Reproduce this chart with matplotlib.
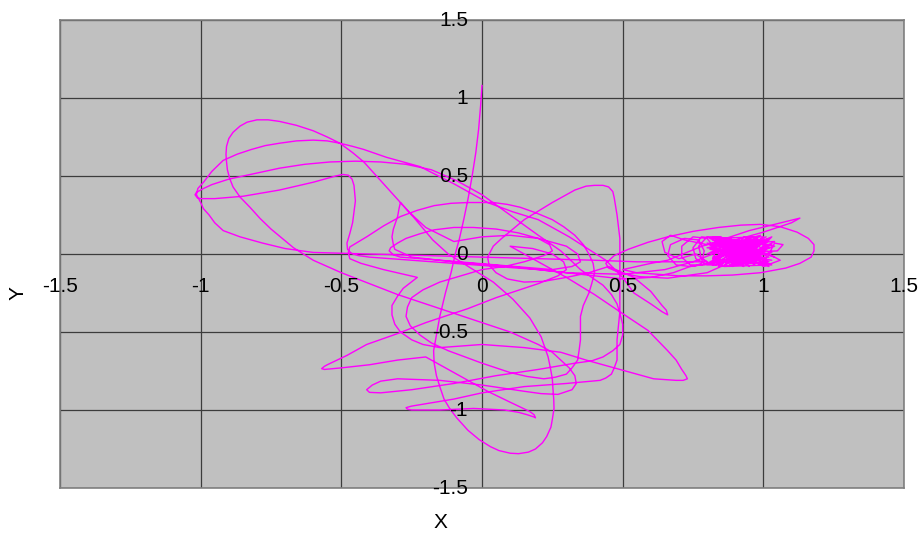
import matplotlib
matplotlib.use('Agg')
import matplotlib.pyplot as plt

# trajectory, in plot units, piece by piece
seg_drop = [(0.00, 1.08), (-0.005, 0.95), (-0.012, 0.80), (-0.022, 0.65), (-0.035, 0.50),
            (-0.05, 0.35), (-0.065, 0.22), (-0.08, 0.10), (-0.095, 0.00), (-0.11, -0.12),
            (-0.13, -0.25), (-0.15, -0.40), (-0.165, -0.55), (-0.172, -0.62), (-0.17, -0.70),
            (-0.162, -0.78), (-0.15, -0.85), (-0.135, -0.93), (-0.115, -0.99), (-0.09, -1.05),
            (-0.05, -1.13), (-0.01, -1.19), (0.03, -1.235), (0.06, -1.26), (0.10, -1.277),
            (0.13, -1.28), (0.165, -1.27), (0.19, -1.25), (0.215, -1.21), (0.23, -1.17),
            (0.245, -1.11), (0.25, -1.06), (0.256, -0.99), (0.255, -0.93), (0.252, -0.86),
            (0.25, -0.80), (0.243, -0.73), (0.235, -0.66), (0.21, -0.53), (0.17, -0.41),
            (0.11, -0.29), (0.04, -0.18), (-0.04, -0.09), (-0.12, 0.00)]

seg_outer = [(-0.175, 0.09), (-0.245, 0.24), (-0.34, 0.43), (-0.38, 0.51), (-0.42, 0.59),
             (-0.46, 0.65), (-0.505, 0.71), (-0.55, 0.75), (-0.60, 0.79), (-0.66, 0.825),
             (-0.72, 0.85), (-0.76, 0.86), (-0.80, 0.86), (-0.835, 0.845), (-0.86, 0.82),
             (-0.885, 0.78), (-0.90, 0.74), (-0.908, 0.69), (-0.91, 0.64), (-0.908, 0.59),
             (-0.905, 0.54), (-0.897, 0.485), (-0.885, 0.43), (-0.86, 0.365), (-0.825, 0.30),
             (-0.79, 0.23), (-0.75, 0.16), (-0.71, 0.10), (-0.67, 0.04), (-0.60, -0.04),
             (-0.50, -0.12), (-0.40, -0.19), (-0.30, -0.26), (-0.20, -0.32), (-0.10, -0.38),
             (0.00, -0.44), (0.10, -0.50), (0.20, -0.58), (0.25, -0.63), (0.28, -0.68),
             (0.31, -0.73), (0.33, -0.78), (0.335, -0.83), (0.32, -0.87), (0.27, -0.90),
             (0.21, -0.895), (0.15, -0.88), (0.00, -0.84), (-0.15, -0.81), (-0.30, -0.80),
             (-0.36, -0.815), (-0.39, -0.84), (-0.41, -0.87), (-0.40, -0.887), (-0.36, -0.89),
             (-0.25, -0.87), (-0.10, -0.83), (0.05, -0.78), (0.20, -0.74), (0.33, -0.70),
             (0.39, -0.685), (0.43, -0.66), (0.465, -0.62), (0.49, -0.58), (0.50, -0.52),
             (0.50, -0.45), (0.49, -0.38), (0.48, -0.32), (0.46, -0.26), (0.43, -0.20),
             (0.35, -0.10)]

seg_tip = [(0.28, 0.02), (0.20, 0.12), (0.10, 0.25), (0.00, 0.38), (-0.09, 0.47),
           (-0.18, 0.54), (-0.27, 0.575), (-0.36, 0.59), (-0.45, 0.595), (-0.54, 0.59),
           (-0.63, 0.575), (-0.72, 0.55), (-0.81, 0.515), (-0.90, 0.48), (-0.96, 0.445),
           (-0.99, 0.42), (-1.015, 0.395), (-1.02, 0.38), (-1.012, 0.36), (-1.00, 0.355),
           (-0.95, 0.355), (-0.85, 0.37), (-0.72, 0.41), (-0.60, 0.46), (-0.52, 0.50),
           (-0.495, 0.51), (-0.475, 0.505), (-0.462, 0.48), (-0.455, 0.44), (-0.45, 0.34),
           (-0.455, 0.27), (-0.46, 0.20), (-0.47, 0.13), (-0.48, 0.07), (-0.478, 0.03),
           (-0.465, 0.005), (-0.44, -0.01), (-0.40, -0.02), (-0.25, -0.04), (-0.10, -0.06),
           (0.05, -0.08), (0.20, -0.10), (0.35, -0.13), (0.50, -0.16), (0.60, -0.15),
           (0.68, -0.12), (0.74, -0.08)]

seg_cluster = [(0.76, -0.075), (0.78, -0.06), (0.79, 0.02), (0.77, 0.09), (0.72, 0.10),
               (0.67, 0.06), (0.66, -0.01), (0.69, -0.07), (0.74, -0.08), (0.78, -0.07),
               (0.82, -0.05), (0.83, 0.03), (0.80, 0.10), (0.75, 0.11), (0.71, 0.05),
               (0.71, -0.02), (0.74, -0.07), (0.79, -0.07), (0.84, -0.05), (0.86, 0.03),
               (0.83, 0.10), (0.78, 0.11), (0.75, 0.04), (0.76, -0.03), (0.80, -0.07),
               (0.85, -0.07), (0.88, -0.02), (0.88, 0.05), (0.85, 0.11), (0.80, 0.11),
               (0.77, 0.05), (0.78, -0.03), (0.82, -0.07),
               (0.85, -0.06), (1.00, 0.09), (0.82, 0.07), (1.02, -0.05), (0.84, -0.08),
               (0.98, 0.10), (0.80, 0.04), (1.01, 0.00), (0.86, 0.10), (0.95, -0.08),
               (0.83, 0.08), (1.03, 0.06), (0.88, -0.07), (0.99, -0.04), (0.81, 0.10),
               (1.00, 0.11), (0.90, -0.06), (0.82, -0.02), (1.02, 0.09), (0.87, 0.03),
               (0.97, -0.07), (0.84, 0.11), (1.04, -0.02), (0.90, 0.08), (0.82, -0.06),
               (1.00, 0.03), (0.93, 0.11), (0.86, -0.08), (1.03, -0.07), (0.85, 0.05),
               (0.99, 0.12), (0.83, -0.04), (1.01, -0.06), (0.92, 0.10), (0.80, 0.00),
               (1.02, 0.10), (0.89, -0.08), (0.96, 0.07), (0.84, 0.00), (1.05, 0.02),
               (1.07, 0.06), (1.04, 0.07), (1.02, 0.00), (1.06, -0.04), (1.00, -0.08),
               (0.88, 0.06), (0.97, 0.02), (0.81, 0.06), (0.94, -0.06), (1.03, 0.11),
               (0.87, -0.03), (0.98, 0.05), (0.82, 0.09), (1.01, -0.03), (0.90, -0.04),
               (1.02, 0.04), (0.83, -0.07), (0.96, 0.11), (0.86, -0.01), (1.03, -0.04),
               (0.81, 0.03), (0.99, 0.08), (0.88, -0.08), (1.04, 0.08), (0.84, 0.06),
               (0.97, -0.05), (0.82, 0.11), (1.01, 0.06), (0.91, -0.07), (0.85, 0.09),
               (1.02, -0.08), (0.83, 0.01), (0.95, 0.10), (0.89, -0.05), (1.03, 0.01),
               (0.86, 0.08), (0.98, -0.06), (0.81, -0.05), (1.00, 0.10), (0.92, -0.03),
               (0.84, 0.10), (1.04, 0.05), (0.87, -0.06), (0.94, 0.04), (0.82, -0.03),
               (1.01, 0.11), (0.90, 0.01), (0.97, 0.09), (0.85, -0.04), (1.02, -0.02),
               (0.88, 0.10), (0.93, -0.08), (0.80, 0.07), (0.99, 0.00), (0.90, -0.04)]

seg_ring = [(0.80, -0.12), (0.66, -0.155), (0.56, -0.145), (0.49, -0.12), (0.45, -0.09),
            (0.44, -0.06), (0.47, -0.01), (0.52, 0.03), (0.59, 0.075), (0.66, 0.11),
            (0.75, 0.145), (0.84, 0.17), (0.92, 0.185), (0.99, 0.19), (1.06, 0.175),
            (1.12, 0.14), (1.16, 0.10), (1.18, 0.06), (1.18, 0.02), (1.17, -0.02),
            (1.13, -0.06), (1.08, -0.09), (0.99, -0.12), (0.89, -0.135), (0.80, -0.14),
            (0.70, -0.14), (0.55, -0.12), (0.50, -0.10), (0.60, -0.06), (0.66, -0.04),
            (0.775, 0.045), (0.95, 0.15), (1.13, 0.23), (1.10, 0.20), (1.00, 0.14),
            (0.90, 0.09), (0.80, 0.06), (0.72, 0.09), (0.67, 0.12), (0.64, 0.08),
            (0.65, 0.01), (0.70, -0.03), (0.76, 0.00), (0.80, -0.05)]

seg_exit = [(0.70, -0.05), (0.55, -0.05), (0.40, -0.04), (0.20, -0.03), (0.00, -0.02),
            (-0.20, -0.01), (-0.40, 0.00), (-0.60, 0.01), (-0.70, 0.035), (-0.78, 0.07),
            (-0.86, 0.11), (-0.92, 0.15), (-0.95, 0.20), (-0.97, 0.25), (-0.99, 0.29),
            (-1.00, 0.33), (-1.015, 0.38), (-1.01, 0.42), (-0.99, 0.46), (-0.96, 0.53),
            (-0.92, 0.60), (-0.87, 0.64), (-0.82, 0.67), (-0.77, 0.695), (-0.72, 0.71),
            (-0.66, 0.725), (-0.60, 0.73), (-0.55, 0.725), (-0.505, 0.71), (-0.46, 0.69),
            (-0.42, 0.67), (-0.34, 0.62), (-0.22, 0.56), (-0.10, 0.45), (0.02, 0.33),
            (0.11, 0.27), (0.20, 0.22), (0.31, 0.11), (0.44, -0.04), (0.50, -0.15),
            (0.54, -0.25), (0.60, -0.32), (0.64, -0.37), (0.66, -0.39), (0.655, -0.36),
            (0.64, -0.33), (0.60, -0.24), (0.54, -0.15), (0.45, -0.08)]

seg_peak = [(0.38, -0.12), (0.30, -0.15), (0.22, -0.175), (0.15, -0.18), (0.09, -0.16),
            (0.05, -0.12), (0.025, -0.07), (0.02, -0.02), (0.04, 0.05), (0.07, 0.10),
            (0.15, 0.22), (0.25, 0.33), (0.29, 0.37), (0.33, 0.41), (0.37, 0.435),
            (0.40, 0.44), (0.43, 0.44), (0.45, 0.43), (0.465, 0.40), (0.47, 0.36),
            (0.48, 0.25), (0.49, 0.10), (0.49, -0.05), (0.49, -0.20), (0.49, -0.37),
            (0.48, -0.55), (0.48, -0.68), (0.47, -0.73), (0.46, -0.77), (0.44, -0.795),
            (0.42, -0.81), (0.36, -0.82), (0.30, -0.83), (0.15, -0.85), (0.00, -0.89),
            (-0.10, -0.93), (-0.20, -0.96), (-0.25, -0.975), (-0.27, -0.985), (-0.265, -0.995),
            (-0.25, -1.00), (-0.15, -1.00), (-0.03, -0.99), (0.08, -1.00), (0.13, -1.015),
            (0.16, -1.03), (0.185, -1.045), (0.19, -1.05), (0.185, -1.03), (0.17, -1.01),
            (0.10, -0.95), (0.02, -0.88), (-0.08, -0.78), (-0.20, -0.66)]

seg_lobe = [(-0.30, -0.68), (-0.40, -0.71), (-0.50, -0.73), (-0.56, -0.74), (-0.57, -0.735),
            (-0.56, -0.72), (-0.55, -0.71), (-0.48, -0.65), (-0.41, -0.58), (-0.30, -0.51),
            (-0.20, -0.44), (-0.05, -0.35), (0.05, -0.28), (0.20, -0.19), (0.27, -0.14),
            (0.30, -0.10), (0.29, -0.05), (0.25, 0.00), (0.18, 0.035), (0.10, 0.05),
            (0.14, 0.01), (0.20, -0.05), (0.30, -0.15), (0.40, -0.26), (0.49, -0.37),
            (0.59, -0.49), (0.66, -0.62), (0.69, -0.68), (0.71, -0.74), (0.725, -0.78),
            (0.73, -0.80), (0.715, -0.81), (0.69, -0.81), (0.61, -0.80), (0.49, -0.74),
            (0.37, -0.68), (0.28, -0.63), (0.15, -0.60), (0.00, -0.58), (-0.15, -0.60),
            (-0.21, -0.58), (-0.25, -0.55), (-0.29, -0.50), (-0.31, -0.45), (-0.32, -0.39),
            (-0.32, -0.33), (-0.30, -0.27), (-0.28, -0.22), (-0.23, -0.15)]

seg_oval = [(-0.35, -0.10), (-0.43, -0.06), (-0.47, -0.03), (-0.475, 0.01), (-0.47, 0.045),
            (-0.41, 0.11), (-0.35, 0.18), (-0.29, 0.24), (-0.23, 0.28), (-0.17, 0.31),
            (-0.11, 0.325), (-0.05, 0.33), (0.04, 0.33), (0.09, 0.318), (0.135, 0.30),
            (0.19, 0.265), (0.25, 0.22), (0.29, 0.175), (0.33, 0.12), (0.36, 0.06),
            (0.38, 0.00), (0.395, -0.06), (0.40, -0.12), (0.39, -0.19), (0.38, -0.25),
            (0.36, -0.33), (0.35, -0.40), (0.35, -0.55), (0.345, -0.62), (0.34, -0.68),
            (0.32, -0.73), (0.30, -0.77), (0.26, -0.79), (0.22, -0.80), (0.16, -0.785),
            (0.10, -0.76), (0.00, -0.70), (-0.12, -0.62), (-0.18, -0.57), (-0.22, -0.52),
            (-0.255, -0.46), (-0.27, -0.40), (-0.265, -0.34), (-0.25, -0.28), (-0.21, -0.23),
            (-0.15, -0.18)]

seg_inner = [(0.00, -0.10), (0.08, -0.08), (0.15, -0.05), (0.22, -0.01), (0.25, 0.02),
             (0.24, 0.06), (0.20, 0.10), (0.13, 0.135), (0.05, 0.16), (-0.03, 0.17),
             (-0.10, 0.17), (-0.17, 0.155), (-0.22, 0.13), (-0.27, 0.10), (-0.30, 0.07),
             (-0.325, 0.04), (-0.33, 0.02), (-0.315, -0.005), (-0.29, -0.02), (-0.15, -0.04),
             (0.05, -0.07), (0.25, -0.10), (0.32, -0.08), (0.35, -0.05), (0.34, 0.00),
             (0.30, 0.05), (0.20, 0.10), (0.10, 0.12), (0.00, 0.11), (-0.10, 0.08),
             (-0.20, 0.17), (-0.26, 0.27), (-0.29, 0.33), (-0.295, 0.29), (-0.30, 0.24),
             (-0.315, 0.16), (-0.32, 0.11), (-0.315, 0.06), (-0.31, 0.03), (-0.25, -0.02),
             (-0.10, -0.05), (0.10, -0.08), (0.30, -0.12), (0.50, -0.13), (0.65, -0.10),
             (0.75, -0.05), (0.82, 0.00), (0.90, 0.05), (0.97, 0.00), (0.86, -0.05),
             (0.95, 0.08)]

segments = [seg_drop, seg_outer, seg_tip, seg_cluster, seg_ring, seg_exit,
            seg_peak, seg_lobe, seg_oval, seg_inner]

ticks = [-1.5, -1, -0.5, 0, 0.5, 1, 1.5]
tick_labels = ['-1.5', '-1', '-0.5', '0', '0.5', '1', '1.5']

path = [p for seg in segments for p in seg]
xs = [p[0] for p in path]
ys = [p[1] for p in path]

fig = plt.figure(figsize=(9.21, 5.38), dpi=100)
ax = fig.add_axes([60 / 921, 50 / 538, 844 / 921, 468 / 538])
ax.set_facecolor('#c0c0c0')
ax.set_xlim(-1.5, 1.5)
ax.set_ylim(-1.5, 1.5)

for t in ticks:
    ax.axvline(t, color='#3c3c3c', lw=0.9, zorder=1)
    ax.axhline(t, color='#3c3c3c', lw=0.9, zorder=1)

ax.plot(xs, ys, color='#ff00ff', lw=1.0, zorder=3, solid_joinstyle='round')

for s in ax.spines.values():
    s.set_color('#808080')
    s.set_linewidth(1.2)
ax.set_xticks([])
ax.set_yticks([])

# tick labels sit on the axes through the origin
font = dict(family='Liberation Sans', fontsize=15, color='black')
for t, lab in zip(ticks, tick_labels):
    ax.annotate(lab, (t, 0), xytext=(0, -23), textcoords='offset pixels',
                ha='center', va='top', zorder=4, annotation_clip=False, **font)
    ax.annotate(lab, (0, t), xytext=(-14, 0), textcoords='offset pixels',
                ha='right', va='center', zorder=4, annotation_clip=False, **font)

fig.text(18 / 921, 1 - 293 / 538, 'Y', rotation=90, ha='center', va='center', **font)
fig.text(440 / 921, 1 - 522 / 538, 'X', ha='center', va='center', **font)

fig.savefig('out.png', dpi=100, facecolor='white')
